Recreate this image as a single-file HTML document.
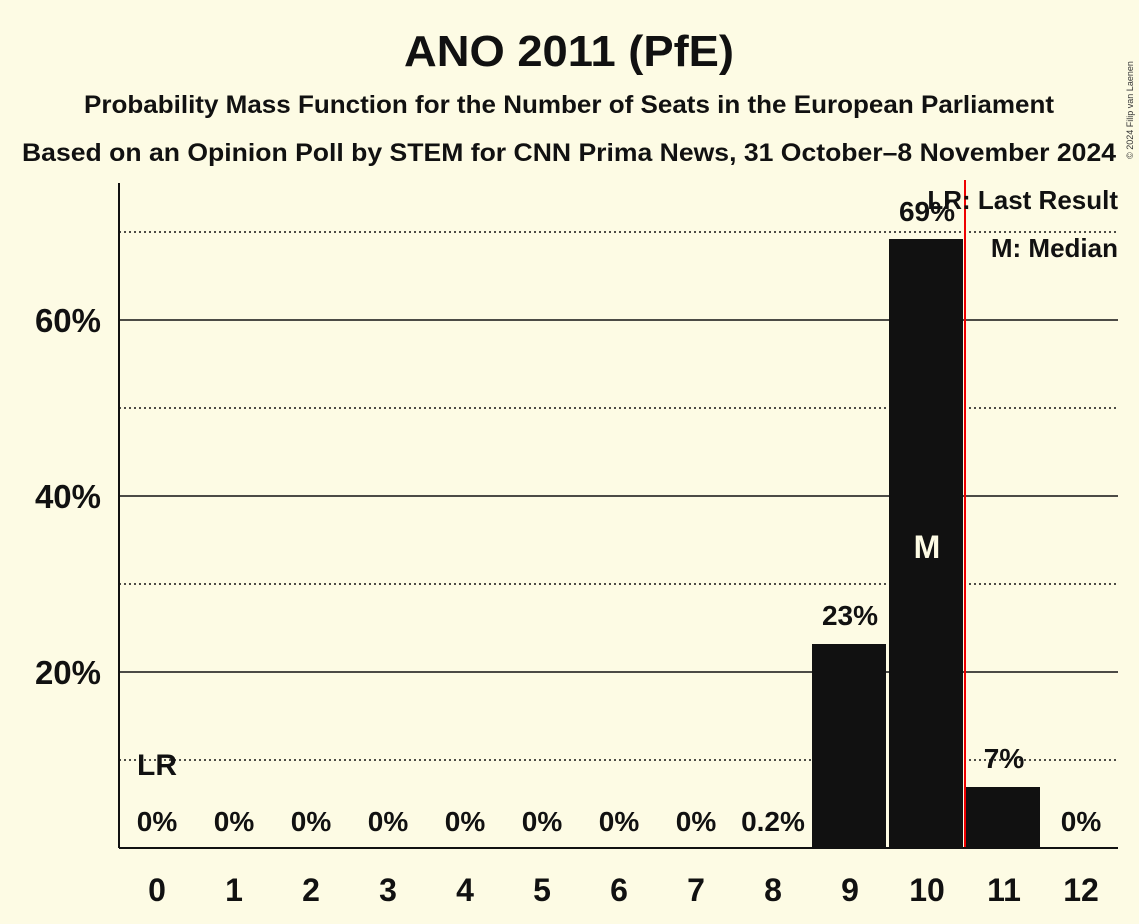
<!DOCTYPE html>
<html><head><meta charset="utf-8"><style>
html,body{margin:0;padding:0;background:#fdfbe4;}
svg{display:block;font-family:"Liberation Sans",sans-serif;}
</style></head><body>
<svg width="1139" height="924" viewBox="0 0 1139 924" xmlns="http://www.w3.org/2000/svg">
<rect width="1139" height="924" fill="#fdfbe4"/>
<text x="569" y="66" text-anchor="middle" font-size="44" font-weight="bold" fill="#111" textLength="330" lengthAdjust="spacingAndGlyphs">ANO 2011 (PfE)</text>
<text x="569" y="113" text-anchor="middle" font-size="25" font-weight="bold" fill="#111" textLength="970" lengthAdjust="spacingAndGlyphs">Probability Mass Function for the Number of Seats in the European Parliament</text>
<text x="569" y="161" text-anchor="middle" font-size="25" font-weight="bold" fill="#111" textLength="1094" lengthAdjust="spacingAndGlyphs">Based on an Opinion Poll by STEM for CNN Prima News, 31 October–8 November 2024</text>
<text x="1133" y="110" font-size="9" fill="#333" transform="rotate(-90 1133 110)" text-anchor="middle">© 2024 Filip van Laenen</text>
<g stroke="#111" stroke-width="1.5" stroke-dasharray="2,3">
<line x1="119" y1="760" x2="1118" y2="760"/><line x1="119" y1="584" x2="1118" y2="584"/>
<line x1="119" y1="408" x2="1118" y2="408"/><line x1="119" y1="232" x2="1118" y2="232"/>
</g>
<g stroke="#111" stroke-width="1.5">
<line x1="119" y1="672" x2="1118" y2="672"/><line x1="119" y1="496" x2="1118" y2="496"/>
<line x1="119" y1="320" x2="1118" y2="320"/>
</g>
<g fill="#111">
<rect x="812" y="644" width="74" height="204"/>
<rect x="889" y="239" width="74" height="609"/>
<rect x="966" y="787" width="74" height="61"/>
</g>
<line x1="965" y1="180" x2="965" y2="848" stroke="#e00" stroke-width="2"/>
<line x1="119" y1="183" x2="119" y2="848" stroke="#111" stroke-width="2"/>
<line x1="119" y1="848" x2="1118" y2="848" stroke="#111" stroke-width="2"/>
<g font-size="33" font-weight="bold" fill="#111" text-anchor="end">
<text x="101" y="684">20%</text><text x="101" y="508">40%</text><text x="101" y="332">60%</text>
</g>
<g font-size="32" font-weight="bold" fill="#111" text-anchor="middle">
<text x="157" y="901">0</text><text x="234" y="901">1</text><text x="311" y="901">2</text><text x="388" y="901">3</text><text x="465" y="901">4</text><text x="542" y="901">5</text><text x="619" y="901">6</text><text x="696" y="901">7</text><text x="773" y="901">8</text><text x="850" y="901">9</text><text x="927" y="901">10</text><text x="1004" y="901">11</text><text x="1081" y="901">12</text>
</g>
<g font-size="28" font-weight="bold" fill="#111" text-anchor="middle">
<text x="157" y="831">0%</text><text x="234" y="831">0%</text><text x="311" y="831">0%</text><text x="388" y="831">0%</text><text x="465" y="831">0%</text><text x="542" y="831">0%</text><text x="619" y="831">0%</text><text x="696" y="831">0%</text><text x="773" y="831">0.2%</text><text x="1081" y="831">0%</text>
<text x="850" y="625">23%</text><text x="927" y="221">69%</text><text x="1004" y="768">7%</text>
<text x="157" y="775" font-size="30">LR</text>
</g>
<text x="927" y="558" font-size="32" font-weight="bold" fill="#fdfbe4" text-anchor="middle">M</text>
<g font-size="26" font-weight="bold" fill="#111" text-anchor="end">
<text x="1118" y="209">LR: Last Result</text><text x="1118" y="257">M: Median</text>
</g>
</svg>
</body></html>
